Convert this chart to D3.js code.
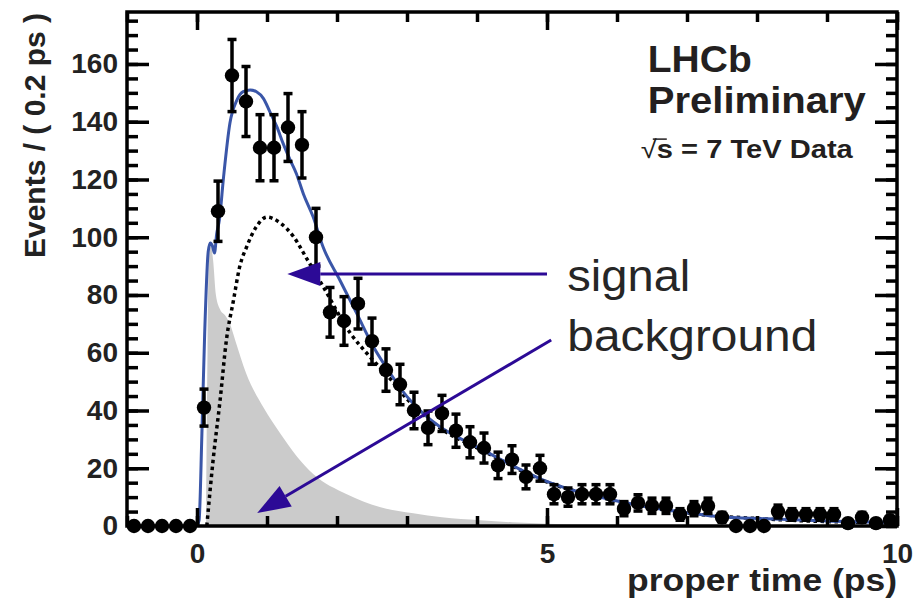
<!DOCTYPE html>
<html><head><meta charset="utf-8">
<script src="https://cdn.jsdelivr.net/npm/d3@7"></script>
<style>html,body{margin:0;padding:0;background:#fff;} svg{display:block;}</style>
</head><body>
<svg id="c" width="916" height="603"></svg>
<script>
// ---- data ----
const binCenters = [-0.9,-0.7,-0.5,-0.3,-0.1,0.1,0.3,0.5,0.7,0.9,1.1,1.3,1.5,1.7,1.9,2.1,2.3,2.5,2.7,2.9,3.1,3.3,3.5,3.7,3.9,4.1,4.3,4.5,4.7,4.9,5.1,5.3,5.5,5.7,5.9,6.1,6.3,6.5,6.7,6.9,7.1,7.3,7.5,7.7,7.9,8.1,8.3,8.5,8.7,8.9,9.1,9.3,9.5,9.7,9.9];
const counts = [0,0,0,0,0,41,109,156,147,131,131,138,132,100,74,71,77,64,54,49,40,34,39,33,29,27,21,23,17,20,11,10,11,11,11,6,8,7,7,4,6,7,3,0,0,0,5,4,4,4,4,1,3,1,2];

const fitT = [0,0.03,0.07,0.11,0.16,0.19,0.22,0.25,0.28,0.32,0.38,0.47,0.57,0.66,0.76,0.85,0.95,1.04,1.14,1.23,1.33,1.42,1.52,1.66,1.8,2.04,2.28,2.52,2.76,3.0,3.23,3.47,3.8,4.09,4.5,4.94,5.5,6.04,6.5,7.0,7.47,8.14,9.0,10.0];
const fitV = [0,2,32,67,95,98,97,94.5,101,106,121,139.5,147.5,150.4,151,150.4,148,143.5,138.3,132.5,126.8,122,115,107,96.7,85.2,73.7,62.1,52.9,44.8,39,34.4,29.8,26.3,21,16,11.5,8.5,6.3,4.6,3.2,2.5,1.7,1.2];

const sigT = [0.14,0.23,0.33,0.42,0.52,0.61,0.71,0.85,1.0,1.19,1.38,1.57,1.8,2.19,2.47,2.76,3.0,3.47,4.09,4.94,6.04,7.0,8.14,10.0];
const sigV = [0,22.8,43.6,64.4,78,89.8,96.7,103.7,107,104.9,100.2,92.5,83,66.8,58.6,51,44,34,26,15.8,8.4,4.5,2.4,1.1];

const bgT = [0.13,0.15,0.17,0.2,0.23,0.27,0.33,0.4,0.47,0.55,0.7,0.95,1.19,1.43,1.66,2.14,2.61,3.09,3.5,4.04,4.5,5.0,5.5,6.0,7.0];
const bgV = [0,60,94,97,92,80,75,73,70,64,53,41,32,24,18,11,6.6,4.4,3,2,1.3,0.8,0.5,0.3,0];

const yTicks = [0,20,40,60,80,100,120,140,160];
const xTicks = [0,5,10];
const xTickLabels = ["0","5","10"];

// annotation anchors (data coordinates)
const annotations = [
  {label:"signal", from:[5.0,87.3], to:[1.29,87.3], textAt:[5.29,81.4]},
  {label:"background", from:[5.06,64.4], to:[0.86,4.5], textAt:[5.29,60.6]}
];

// ---- scales ----
const W = 916, H = 603;
const margin = {left:127, right:19, top:12, bottom:77};
const x = d3.scaleLinear().domain([-1,10]).range([margin.left, W-margin.right]);
const y = d3.scaleLinear().domain([0,178]).range([H-margin.bottom, margin.top]);

const svg = d3.select("#c");
const FONT = "'Liberation Sans', Arial, Helvetica, sans-serif";

// background fill
const bgData = bgT.map((t,i)=>[t,bgV[i]]);
svg.append("path")
  .attr("d", d3.area().x(d=>x(d[0])).y0(y(0)).y1(d=>y(d[1])).curve(d3.curveMonotoneX)(bgData))
  .attr("fill","#cbcbcb");

// signal dotted
const sigData = sigT.map((t,i)=>[t,sigV[i]]);
svg.append("path")
  .attr("d", d3.line().x(d=>x(d[0])).y(d=>y(d[1])).curve(d3.curveMonotoneX)(sigData))
  .attr("fill","none").attr("stroke","#000").attr("stroke-width",3.5).attr("stroke-dasharray","3.5,3.5");

// total fit
const fitData = fitT.map((t,i)=>[t,fitV[i]]);
svg.append("path")
  .attr("d", d3.line().x(d=>x(d[0])).y(d=>y(d[1])).curve(d3.curveMonotoneX)(fitData))
  .attr("fill","none").attr("stroke","#3a56a8").attr("stroke-width",3);

// data points with Poisson error bars
const pts = binCenters.map((t,i)=>({t, n:counts[i], e:Math.sqrt(counts[i])}));
const g = svg.append("g");
const eb = g.selectAll("g.eb").data(pts.filter(d=>d.n>0)).join("g");
eb.append("line").attr("x1",d=>x(d.t)).attr("x2",d=>x(d.t))
  .attr("y1",d=>y(d.n+d.e)).attr("y2",d=>y(Math.max(0,d.n-d.e)))
  .attr("stroke","#000").attr("stroke-width",3.5);
eb.append("line").attr("x1",d=>x(d.t)-4.5).attr("x2",d=>x(d.t)+4.5)
  .attr("y1",d=>y(d.n+d.e)).attr("y2",d=>y(d.n+d.e))
  .attr("stroke","#000").attr("stroke-width",3.5);
eb.append("line").attr("x1",d=>x(d.t)-4.5).attr("x2",d=>x(d.t)+4.5)
  .attr("y1",d=>y(Math.max(0,d.n-d.e))).attr("y2",d=>y(Math.max(0,d.n-d.e)))
  .attr("stroke","#000").attr("stroke-width",3.5);
g.selectAll("circle").data(pts).join("circle")
  .attr("cx",d=>x(d.t)).attr("cy",d=>y(d.n)).attr("r",7.2).attr("fill","#000");

// axes (ticks inside)
function styleAxis(sel){ sel.select(".domain").remove(); sel.selectAll("line").attr("stroke","#000").attr("stroke-width",3.5); }
const yMinor = d3.range(0,178,5);
const xMinor = d3.range(-1,10.01,1);
svg.append("g").attr("transform",`translate(${x(-1)},0)`)
  .call(d3.axisLeft(y).tickValues(yMinor).tickSize(-11).tickFormat("")).call(styleAxis);
svg.append("g").attr("transform",`translate(${x(10)},0)`)
  .call(d3.axisRight(y).tickValues(yMinor).tickSize(-11).tickFormat("")).call(styleAxis);
svg.append("g").attr("transform",`translate(${x(10)},0)`)
  .call(d3.axisRight(y).tickValues(yTicks).tickSize(-22).tickFormat("")).call(styleAxis);
const yAx = svg.append("g").attr("transform",`translate(${x(-1)},0)`)
  .call(d3.axisLeft(y).tickValues(yTicks).tickSize(-22).tickPadding(9)).call(styleAxis);
yAx.selectAll("text").attr("font-family",FONT).attr("font-weight","bold").attr("font-size",28).attr("fill","#222");

svg.append("g").attr("transform",`translate(0,${y(0)})`)
  .call(d3.axisBottom(x).tickValues(xMinor).tickSize(-10).tickFormat("")).call(styleAxis);
svg.append("g").attr("transform",`translate(0,${y(178)})`)
  .call(d3.axisTop(x).tickValues(xMinor).tickSize(-10).tickFormat("")).call(styleAxis);
svg.append("g").attr("transform",`translate(0,${y(178)})`)
  .call(d3.axisTop(x).tickValues(xTicks).tickSize(-18).tickFormat("")).call(styleAxis);
const xAx = svg.append("g").attr("transform",`translate(0,${y(0)})`)
  .call(d3.axisBottom(x).tickValues(xTicks).tickSize(-18).tickPadding(17).tickFormat((d,i)=>xTickLabels[i])).call(styleAxis);
xAx.selectAll("text").attr("font-family",FONT).attr("font-weight","bold").attr("font-size",28).attr("fill","#222");

// frame
svg.append("rect").attr("x",x(-1)).attr("y",y(178)).attr("width",x(10)-x(-1)).attr("height",y(0)-y(178))
  .attr("fill","none").attr("stroke","#000").attr("stroke-width",3.5);

// titles
svg.append("text").attr("transform",`translate(45,${y(178)+1}) rotate(-90)`)
  .attr("text-anchor","end").attr("font-family",FONT).attr("font-weight","bold").attr("font-size",30)
  .attr("fill","#222").attr("textLength",245).attr("lengthAdjust","spacingAndGlyphs").text("Events / ( 0.2 ps )");
svg.append("text").attr("x",x(10)).attr("y",591).attr("text-anchor","end")
  .attr("font-family",FONT).attr("font-weight","bold").attr("font-size",31).attr("fill","#222")
  .attr("textLength",270).attr("lengthAdjust","spacingAndGlyphs").text("proper time (ps)");

// LHCb label
const lab = svg.append("g").attr("font-family",FONT).attr("font-weight","bold").attr("fill","#231f20");
lab.append("text").attr("x",x(6.44)).attr("y",y(157.2)).attr("font-size",37)
  .attr("textLength",104).attr("lengthAdjust","spacingAndGlyphs").text("LHCb");
lab.append("text").attr("x",x(6.44)).attr("y",y(142.9)).attr("font-size",37)
  .attr("textLength",218).attr("lengthAdjust","spacingAndGlyphs").text("Preliminary");
const rs = lab.append("text").attr("x",x(6.34)).attr("y",y(127.4)).attr("font-size",25).attr("textLength",212).attr("lengthAdjust","spacingAndGlyphs");
rs.append("tspan").attr("font-weight","normal").text("\u221A");
rs.append("tspan").text("s = 7 TeV Data");
lab.append("line").attr("x1",x(6.34)+12).attr("x2",x(6.34)+26).attr("y1",y(127.4)-19).attr("y2",y(127.4)-19)
  .attr("stroke","#231f20").attr("stroke-width",1.5);

// annotations
const ARROW = "#2c0a96";
annotations.forEach(a=>{
  const x1=x(a.from[0]), y1=y(a.from[1]), x2=x(a.to[0]), y2=y(a.to[1]);
  const ang=Math.atan2(y2-y1,x2-x1), L=33, Wd=12;
  const bx=x2-L*Math.cos(ang), by=y2-L*Math.sin(ang);
  svg.append("line").attr("x1",x1).attr("y1",y1).attr("x2",bx).attr("y2",by)
    .attr("stroke",ARROW).attr("stroke-width",3);
  const p=[[x2,y2],[bx+Wd*Math.sin(ang),by-Wd*Math.cos(ang)],[bx-Wd*Math.sin(ang),by+Wd*Math.cos(ang)]];
  svg.append("path").attr("d","M"+p.map(q=>q.join(",")).join("L")+"Z").attr("fill",ARROW);
  svg.append("text").attr("x",x(a.textAt[0])).attr("y",y(a.textAt[1]))
    .attr("font-family",FONT).attr("font-size",45).attr("fill","#262626")
    .attr("textLength", a.label==="signal"?123:250).attr("lengthAdjust","spacingAndGlyphs").text(a.label);
});
</script>
</body></html>
